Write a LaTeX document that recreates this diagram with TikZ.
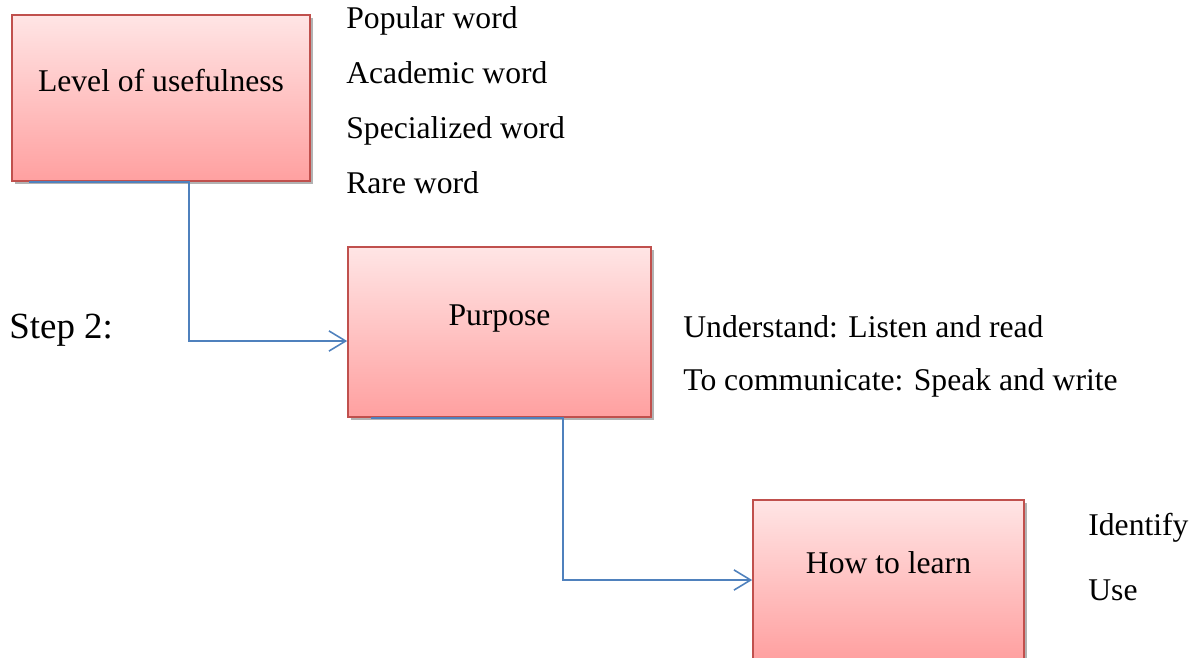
\documentclass[tikz,border=0pt]{standalone}
\usepackage{fontspec}
\setmainfont{Liberation Serif}
\usepackage{tikz}
\definecolor{boxtop}{RGB}{255,229,229}
\definecolor{boxbottom}{RGB}{255,160,160}
\definecolor{boxline}{RGB}{192,80,77}
\definecolor{linkblue}{RGB}{79,129,189}
\usetikzlibrary{positioning,arrows.meta,shadows}
\tikzset{%
  stepbox/.style={rectangle, draw=boxline, line width=1pt, top color=boxtop,
    bottom color=boxbottom, inner sep=0pt, text height=12pt, text depth=19pt,
    font=\fontsize{18}{22}\selectfont,
    drop shadow={shadow xshift=1.5pt, shadow yshift=-1.5pt, opacity=0.3, fill=black}},% pink boxes
  item/.style={anchor=base west, inner sep=0pt, font=\fontsize{18}{22}\selectfont},% word lists
  link/.style={draw=linkblue, line width=0.9pt, -{Straight Barb[length=9.5pt,width=11.5pt]}}% elbow arrows
}

\begin{document}
\begin{tikzpicture}[x=0.02cm, y=-0.02cm]
\useasboundingbox (0,0) rectangle (1200,657);

\node[stepbox, minimum width=5.96cm, minimum height=3.32cm] (lvl) at (161,98) {Level of usefulness};
\node[stepbox, minimum width=6.06cm, minimum height=3.40cm] (purp) at (499.5,332) {Purpose};
\node[stepbox, minimum width=5.42cm, minimum height=3.20cm] (learn) at (888.5,580) {How to learn};

\node[item] (popular) at (346,28) {Popular word};
\node[item] (academic) at (346,83) {Academic word};
\node[item] (special) at (346,138) {Specialized word};
\node[item] (rare) at (346,193) {Rare word};

\node[item, font=\fontsize{21}{25}\selectfont] (step) at (9,338) {Step 2:};

\node[item] (understand) at (683,337) {Understand: Listen and read};
\node[item] (communicate) at (683,390) {To communicate: Speak and write};

\node[item] (identify) at (1088,535) {Identify};
\node[item] (use) at (1088,600) {Use};

\coordinate (bend1) at (189,341);
\coordinate (bend2) at (563,580);
\draw[link] ([xshift=0.36cm]lvl.south west) -| (bend1) -- (bend1 -| purp.west);
\draw[link] ([xshift=0.48cm]purp.south west) -| (bend2) -- (bend2 -| learn.west);

\end{tikzpicture}
\end{document}
